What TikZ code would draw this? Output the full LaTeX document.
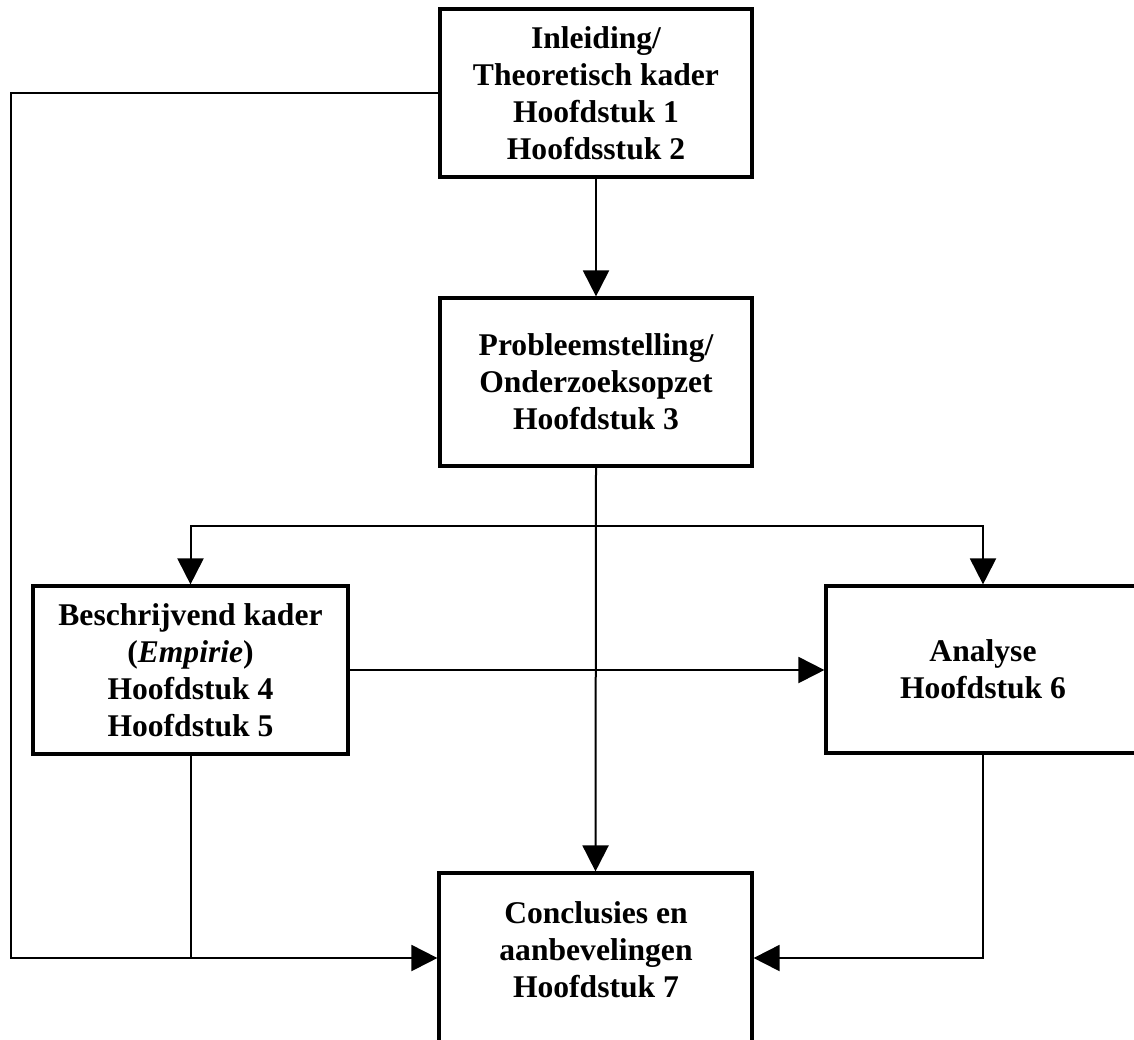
\documentclass[tikz,border=0pt]{standalone}
\usepackage{fontspec}
\setmainfont{Liberation Serif}
\usetikzlibrary{arrows.meta}

\tikzset{
  chapter/.style={draw, line width=1.6pt, rectangle, inner sep=0pt,
    align=center, font=\bfseries\fontsize{15.8}{18.5}\selectfont},
  label/.style={inner sep=0pt, align=center,
    font=\bfseries\fontsize{15.8}{18.5}\selectfont},
  link/.style={line width=1pt},
  conn/.style={link, -{Triangle[length=13pt,width=13pt]}},
}

\begin{document}
\begin{tikzpicture}[x=0.5pt, y=-0.5pt]
  \fill[white] (0,0) rectangle (1134,1039);
  \useasboundingbox (0,0) rectangle (1134,1039);
  \clip (0,0) rectangle (1134,1039);

  % chapter boxes
  \node[chapter, minimum width=156pt, minimum height=84pt] (A) at (596,93)
    {Inleiding/\\Theoretisch kader\\Hoofdstuk 1\\Hoofdsstuk 2};
  \node[chapter, minimum width=156pt, minimum height=84pt] (B) at (596,382)
    {Probleemstelling/\\Onderzoeksopzet\\Hoofdstuk 3};
  \node[chapter, minimum width=157.5pt, minimum height=84pt] (C) at (190.5,670)
    {Beschrijvend kader\\(\textit{Empirie})\\Hoofdstuk 4\\Hoofdstuk 5};
  \node[chapter, minimum width=157pt, minimum height=83.5pt] (D) at (983,669.5)
    {Analyse\\Hoofdstuk 6};
  \node[chapter, minimum width=156.5pt, minimum height=95pt] (E) at (595.5,968) {};
  \node[label] (Etext) at (596,950)
    {Conclusies en\\aanbevelingen\\Hoofdstuk 7};

  % routing points
  \coordinate (split) at (596,526);
  \coordinate (lft) at (11,0);
  \coordinate (bot) at (0,958);

  % connectors
  \draw[conn] (A.south) -- (B.north);
  \draw[conn] (B.south) -- (E.north);
  \draw[conn] (split) -| (C.north);
  \draw[conn] (split) -| (D.north);
  \draw[conn] (C.east) -- (C.east -| D.west);
  \draw[conn] (A.west) -- (A.west -| lft) |- (E.west |- bot);
  \draw[link] (C.south) -- (C.south |- bot);
  \draw[conn] (D.south) |- (E.east |- bot);
\end{tikzpicture}
\end{document}
